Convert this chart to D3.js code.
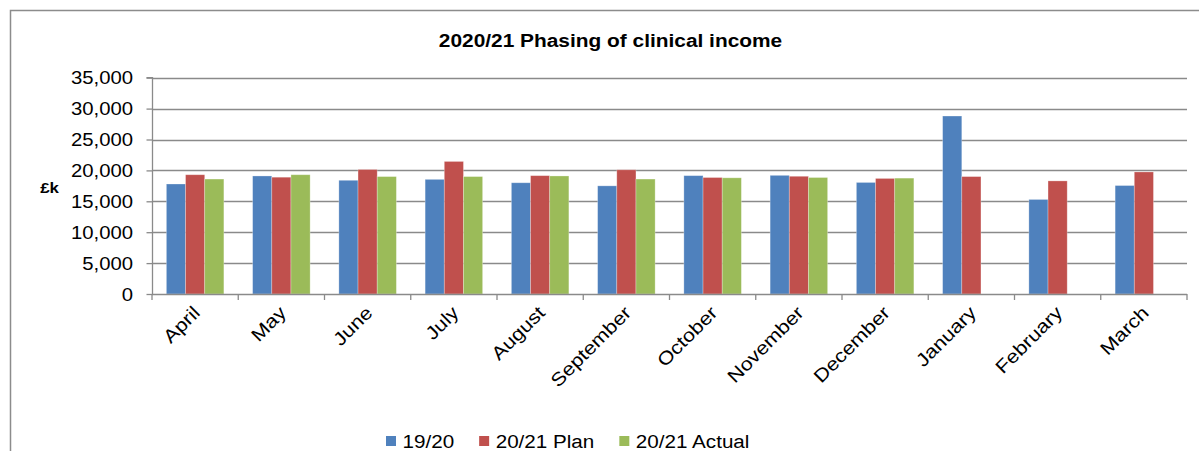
<!DOCTYPE html>
<html>
<head>
<meta charset="utf-8">
<script src="https://cdn.jsdelivr.net/npm/d3@7"></script>
<style>
html,body{margin:0;padding:0;background:#fff;}
svg{display:block;font-family:"Liberation Sans",Arial,sans-serif;}
</style>
</head>
<body>
<svg id="chart" width="1199" height="451"></svg>
<script>
const months = ["April","May","June","July","August","September","October","November","December","January","February","March"];
const seriesNames = ["19/20","20/21 Plan","20/21 Actual"];
const v1920 = [17800,19100,18400,18550,18000,17500,19150,19200,18050,28800,15300,17550];
const vPlan = [19300,18900,20150,21450,19150,20100,18850,19050,18700,19000,18300,19750];
const vActual = [18600,19300,19000,19000,19100,18600,18800,18850,18750,null,null,null];
const yTicks = [0,5000,10000,15000,20000,25000,30000,35000];
const colors = ["#4F81BD","#C0504D","#9BBB59"];

const svg = d3.select("#chart");
const SX = 1.16; // horizontal text stretch of the reference
const plot = {left:152, right:1187, top:77.7, bottom:294};

// outer frame
svg.append("rect").attr("x",10.5).attr("y",10.5).attr("width",1300).attr("height",600)
  .attr("fill","none").attr("stroke","#8c8c8c").attr("stroke-width",1.5);

const x = d3.scaleBand().domain(months).range([plot.left, plot.right]).paddingInner(0).paddingOuter(0);
const y = d3.scaleLinear().domain([0,35000]).range([plot.bottom, plot.top]);
const gapRatio = 1.5;
const barW = x.bandwidth()/(3+gapRatio);
const xs = d3.scaleBand().domain([0,1,2]).range([barW*gapRatio/2, barW*gapRatio/2 + barW*3]).padding(0);

// gridlines
svg.append("g").selectAll("line").data(yTicks.filter(d=>d>0)).join("line")
  .attr("x1",plot.left).attr("x2",plot.right)
  .attr("y1",d=>Math.round(y(d))+0.5).attr("y2",d=>Math.round(y(d))+0.5)
  .attr("stroke","#8a8a8a").attr("stroke-width",1.3);

// bars
const allSeries = [v1920,vPlan,vActual];
allSeries.forEach((vals,si)=>{
  svg.append("g").selectAll("rect").data(months.map((m,i)=>({m,v:vals[i]})).filter(d=>d.v!=null)).join("rect")
    .attr("x",d=>x(d.m)+xs(si))
    .attr("width",xs.bandwidth())
    .attr("y",d=>y(d.v))
    .attr("height",d=>y(0)-y(d.v))
    .attr("fill",colors[si])
    .attr("stroke","rgba(255,255,255,0.35)").attr("stroke-width",0.8);
});

// y axis
const yAxis = d3.axisLeft(y).tickValues(yTicks).tickSize(6).tickPadding(0).tickFormat(d3.format(","));
const gy = svg.append("g").attr("transform",`translate(${plot.left+0.5},0)`).call(yAxis);
gy.select(".domain").attr("stroke","#8a8a8a").attr("stroke-width",1.3).attr("d",`M-6,${plot.top}H0V${plot.bottom}`);
gy.selectAll(".tick line").attr("stroke","#8a8a8a").attr("stroke-width",1.3);
gy.selectAll(".tick text").attr("x",null).attr("dy",null)
  .attr("font-size",17.5).attr("fill","#000").attr("text-anchor","end")
  .attr("transform",`translate(-19.5,6.2) scale(${SX},1)`);

// x axis
const xAxis = d3.axisBottom(x).tickSize(0).tickFormat("");
const gx = svg.append("g").attr("transform",`translate(0,${plot.bottom+0.5})`).call(xAxis);
gx.select(".domain").attr("stroke","#8a8a8a").attr("stroke-width",1.3).attr("d",`M${plot.left},0H${plot.right}`);
// category boundary ticks
const bounds = months.map(m=>x(m)).concat([plot.right]);
svg.append("g").selectAll("line").data(bounds).join("line")
  .attr("x1",d=>d).attr("x2",d=>d).attr("y1",plot.bottom).attr("y2",plot.bottom+6)
  .attr("stroke","#8a8a8a").attr("stroke-width",1.3);
// category labels
svg.append("g").selectAll("text").data(months).join("text")
  .attr("transform",d=>`translate(${x(d)+x.bandwidth()/2+6},${plot.bottom+20}) rotate(-45) scale(${SX},1)`)
  .attr("text-anchor","end").attr("font-size",18.5).attr("fill","#000").text(d=>d);

// £k label
svg.append("text").attr("transform",`translate(49.5,192.5) scale(${SX},1)`)
  .attr("text-anchor","middle").attr("font-weight","bold").attr("font-size",14.5).text("£k");

// title
svg.append("text").attr("transform",`translate(610.5,46.5) scale(${SX},1)`)
  .attr("text-anchor","middle").attr("font-weight","bold").attr("font-size",18).text("2020/21 Phasing of clinical income");

// legend
const lg = svg.append("g");
let lx = 386;
seriesNames.forEach((name,i)=>{
  lg.append("rect").attr("x",lx).attr("y",436).attr("width",10).attr("height",10).attr("fill",colors[i]);
  const t = lg.append("text").attr("transform",`translate(${lx+16.5},447.5) scale(${SX},1)`)
    .attr("font-size",17.8).attr("fill","#000").text(name);
  const w = t.node().getComputedTextLength()*SX;
  lx = lx + 16.5 + w + 25;
});
</script>
</body>
</html>
